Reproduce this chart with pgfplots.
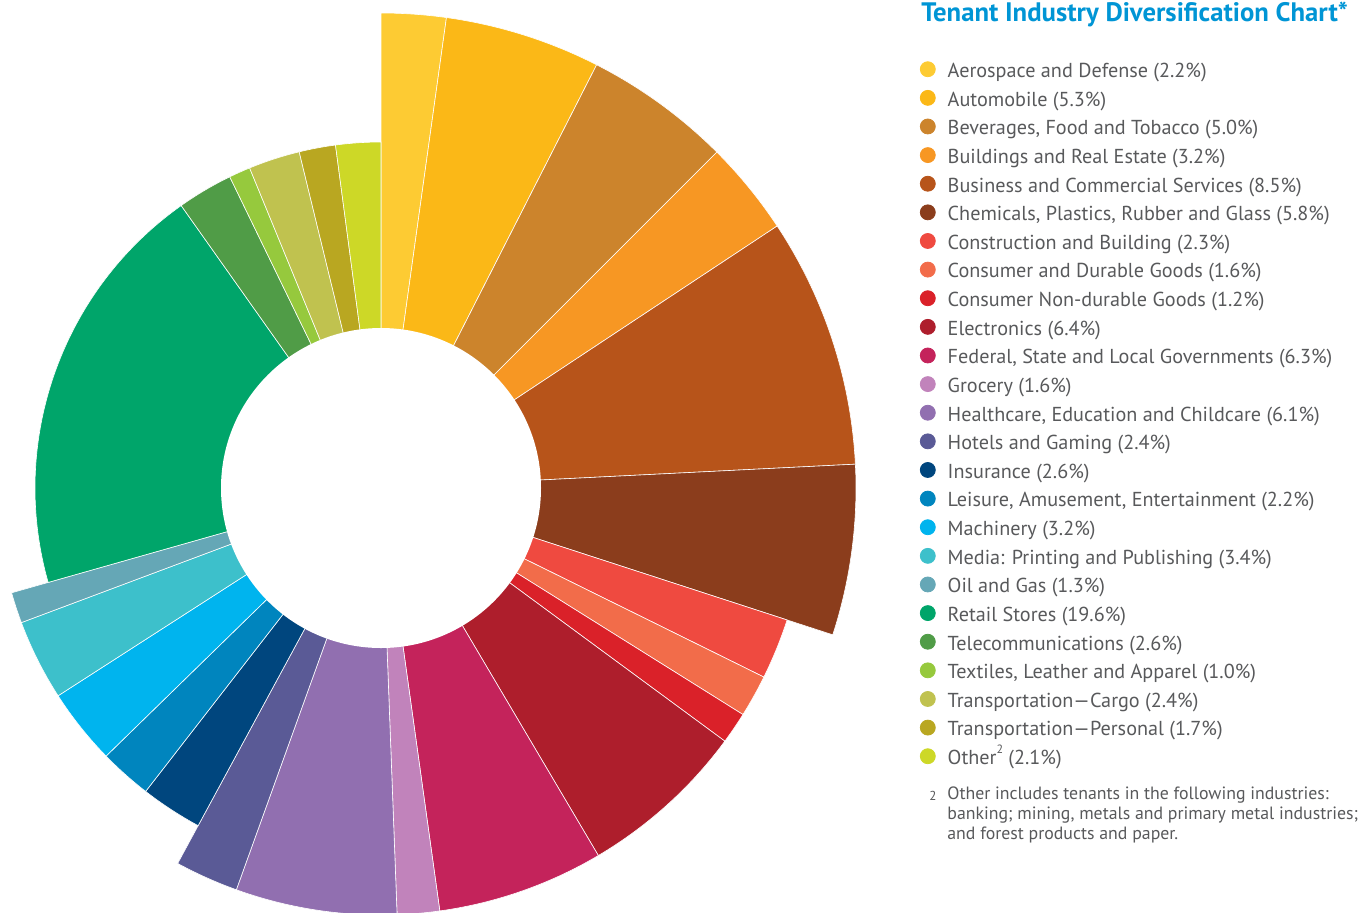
\documentclass[border=0pt]{standalone}
\usepackage{pgfplots}
\usepackage{pgfplotstable}
\pgfplotsset{compat=1.18}
\usepackage{fontspec}
\setmainfont{PT Sans}
\definecolor{c0}{HTML}{FDCB33}
\definecolor{c1}{HTML}{FBB817}
\definecolor{c2}{HTML}{CC842C}
\definecolor{c3}{HTML}{F79723}
\definecolor{c4}{HTML}{B7541A}
\definecolor{c5}{HTML}{8B3D1C}
\definecolor{c6}{HTML}{EF4A40}
\definecolor{c7}{HTML}{F26C4A}
\definecolor{c8}{HTML}{DA2129}
\definecolor{c9}{HTML}{AE1E2C}
\definecolor{c10}{HTML}{C4235B}
\definecolor{c11}{HTML}{C183BB}
\definecolor{c12}{HTML}{916FB0}
\definecolor{c13}{HTML}{5A5A96}
\definecolor{c14}{HTML}{00467E}
\definecolor{c15}{HTML}{0085BE}
\definecolor{c16}{HTML}{00B4EE}
\definecolor{c17}{HTML}{3DC0CB}
\definecolor{c18}{HTML}{65A7B6}
\definecolor{c19}{HTML}{00A56A}
\definecolor{c20}{HTML}{509C47}
\definecolor{c21}{HTML}{96C93D}
\definecolor{c22}{HTML}{C0C24F}
\definecolor{c23}{HTML}{B9A721}
\definecolor{c24}{HTML}{CDD827}
\definecolor{titleblue}{HTML}{0095D5}
\definecolor{txtgray}{HTML}{58595B}
% pct = share of portfolio, r = outer radius (px)
\pgfplotstableread{
pct   r
2.2   475
5.3   475
5.0   475
3.2   475
8.5   475
5.8   475
2.3   427
1.6   427
1.2   427
6.4   427
6.3   427
1.6   427
6.1   427
2.4   427
2.6   384
2.2   384
3.2   384
3.4   384
1.3   384
19.6  346
2.6   346
1.0   346
2.4   346
1.7   346
2.1   346
}\datatable
\gdef\cum{0}
\newcommand{\smallsup}[1]{\raisebox{0.55em}{\fontsize{6pt}{6pt}\selectfont #1}}
\begin{document}
\begin{tikzpicture}
\begin{axis}[
  x=0.5pt, y=0.5pt, y dir=reverse,
  xmin=0, xmax=1362, ymin=0, ymax=912,
  hide axis, clip=false,
  legend style={at={(axis cs:919.5,58.5)}, anchor=north west, draw=none, fill=none,
    font=\fontsize{10.1pt}{12pt}\selectfont, text=txtgray, row sep=0pt, inner sep=0pt,
    nodes={inner sep=0pt, text height=9.3pt, text depth=5.0125pt},
    /tikz/every odd column/.append style={column sep=6pt}},
  legend cell align=left,
  legend image code/.code={\fill[#1] (0pt,0.2em) circle[radius=3.75pt];},
]
\coordinate (BL) at (axis cs:0,912);
\coordinate (TR) at (axis cs:1362,0);
\pgfplotsinvokeforeach{0,...,24}{
  \pgfplotstablegetelem{#1}{pct}\of\datatable \let\p\pgfplotsretval
  \pgfplotstablegetelem{#1}{r}\of\datatable \let\rr\pgfplotsretval
  \pgfmathsetmacro\aS{90-3.6*\cum}
  \pgfmathsetmacro\aE{90-3.6*(\cum+\p)}
  \pgfmathsetmacro\R{0.5*\rr}
  \pgfmathsetmacro\newcum{\cum+\p}
  \xdef\cum{\newcum}
  \edef\tmp{\noexpand\fill[c#1, draw=white, line width=0.3pt] (axis cs:381,488) -- ++(\aS:\R pt) arc[start angle=\aS, end angle=\aE, radius=\R pt] -- cycle;}
  \tmp
}
\fill[white] (axis cs:381,488) circle[radius=80pt];
\addlegendimage{c0}\addlegendentry{Aerospace and Defense (2.2\%)}
\addlegendimage{c1}\addlegendentry{Automobile (5.3\%)}
\addlegendimage{c2}\addlegendentry{Beverages, Food and Tobacco (5.0\%)}
\addlegendimage{c3}\addlegendentry{Buildings and Real Estate (3.2\%)}
\addlegendimage{c4}\addlegendentry{Business and Commercial Services (8.5\%)}
\addlegendimage{c5}\addlegendentry{Chemicals, Plastics, Rubber and Glass (5.8\%)}
\addlegendimage{c6}\addlegendentry{Construction and Building (2.3\%)}
\addlegendimage{c7}\addlegendentry{Consumer and Durable Goods (1.6\%)}
\addlegendimage{c8}\addlegendentry{Consumer Non-durable Goods (1.2\%)}
\addlegendimage{c9}\addlegendentry{Electronics (6.4\%)}
\addlegendimage{c10}\addlegendentry{Federal, State and Local Governments (6.3\%)}
\addlegendimage{c11}\addlegendentry{Grocery (1.6\%)}
\addlegendimage{c12}\addlegendentry{Healthcare, Education and Childcare (6.1\%)}
\addlegendimage{c13}\addlegendentry{Hotels and Gaming (2.4\%)}
\addlegendimage{c14}\addlegendentry{Insurance (2.6\%)}
\addlegendimage{c15}\addlegendentry{Leisure, Amusement, Entertainment (2.2\%)}
\addlegendimage{c16}\addlegendentry{Machinery (3.2\%)}
\addlegendimage{c17}\addlegendentry{Media: Printing and Publishing (3.4\%)}
\addlegendimage{c18}\addlegendentry{Oil and Gas (1.3\%)}
\addlegendimage{c19}\addlegendentry{Retail Stores (19.6\%)}
\addlegendimage{c20}\addlegendentry{Telecommunications (2.6\%)}
\addlegendimage{c21}\addlegendentry{Textiles, Leather and Apparel (1.0\%)}
\addlegendimage{c22}\addlegendentry{Transportation---Cargo (2.4\%)}
\addlegendimage{c23}\addlegendentry{Transportation---Personal (1.7\%)}
\addlegendimage{c24}\addlegendentry{Other\smallsup{2} (2.1\%)}
\node[anchor=base west, inner sep=0pt, font=\bfseries\fontsize{13.35pt}{16pt}\selectfont, text=titleblue] at (axis cs:921,21) {Tenant Industry Diversification Chart*};
\node[anchor=base west, inner sep=0pt, font=\fontsize{6.5pt}{7pt}\selectfont, text=txtgray] at (axis cs:929,800) {2};
\node[anchor=north west, inner sep=0pt, align=left, font=\fontsize{8.9pt}{10pt}\selectfont, text=txtgray] at (axis cs:947,786) {Other includes tenants in the following industries:\\banking; mining, metals and primary metal industries;\\and forest products and paper.};
\end{axis}
\pgfresetboundingbox
\path[use as bounding box] (BL) rectangle (TR);
\end{tikzpicture}
\end{document}
